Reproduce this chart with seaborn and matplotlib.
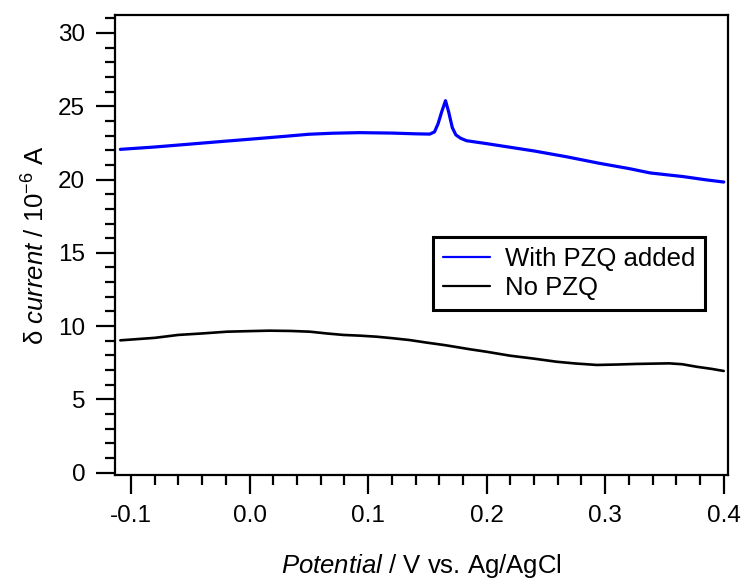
import matplotlib
matplotlib.use("Agg")
import matplotlib.pyplot as plt
import seaborn as sns
import pandas as pd
from matplotlib.ticker import MultipleLocator

# ---- data ----
x_pzq = [-0.109, -0.08, -0.05, -0.02, 0.0, 0.03, 0.05, 0.07, 0.093, 0.12, 0.14,
         0.152, 0.156, 0.159, 0.162, 0.1653, 0.168, 0.171, 0.174, 0.178, 0.183,
         0.2, 0.22, 0.24, 0.267, 0.295, 0.32, 0.338, 0.366, 0.385, 0.4]
y_pzq = [22.06, 22.22, 22.42, 22.62, 22.75, 22.95, 23.09, 23.16, 23.20, 23.17, 23.12,
         23.10, 23.25, 23.8, 24.6, 25.38, 24.6, 23.55, 23.05, 22.82, 22.65,
         22.45, 22.2, 21.95, 21.56, 21.11, 20.75, 20.45, 20.2, 19.98, 19.83]

x_none = [-0.109, -0.08, -0.06, -0.04, -0.019, 0.0, 0.017, 0.035, 0.051, 0.065, 0.079,
          0.093, 0.107, 0.12, 0.135, 0.149, 0.165, 0.186, 0.2, 0.22, 0.24, 0.259,
          0.275, 0.293, 0.31, 0.326, 0.34, 0.354, 0.365, 0.377, 0.39, 0.4]
y_none = [9.03, 9.2, 9.4, 9.5, 9.62, 9.66, 9.69, 9.67, 9.62, 9.5, 9.4,
          9.35, 9.28, 9.18, 9.05, 8.88, 8.7, 8.42, 8.25, 7.98, 7.78, 7.57,
          7.45, 7.35, 7.38, 7.42, 7.44, 7.46, 7.4, 7.23, 7.08, 6.94]

labels = ["With PZQ added", "No PZQ"]
colors = ["#0000ff", "#000000"]

df = pd.concat([
    pd.DataFrame({"x": x_pzq, "y": y_pzq, "series": labels[0]}),
    pd.DataFrame({"x": x_none, "y": y_none, "series": labels[1]}),
], ignore_index=True)

sns.set_theme(style="ticks")
plt.rcParams["font.family"] = ["Liberation Sans", "DejaVu Sans"]
plt.rcParams["mathtext.fontset"] = "custom"
plt.rcParams["mathtext.rm"] = "Liberation Sans"
plt.rcParams["mathtext.it"] = "Liberation Sans:italic"
for k in ["text.color", "axes.labelcolor", "xtick.color", "ytick.color", "axes.edgecolor"]:
    plt.rcParams[k] = "black"

fig = plt.figure(figsize=(7.43, 5.84), dpi=100)
ax = fig.add_axes([115 / 743, 1 - 475 / 584, (728 - 115) / 743, (475 - 14.5) / 584])

sns.lineplot(data=df, x="x", y="y", hue="series", palette=dict(zip(labels, colors)),
             estimator=None, sort=False, ax=ax, linewidth=2)
for line, lw in zip(ax.lines, [2.3, 1.9]):
    line.set_linewidth(lw)

ax.set_xlim(-0.1135, 0.4036)
ax.set_ylim(-0.157, 31.26)
ax.xaxis.set_major_locator(MultipleLocator(0.1))
ax.xaxis.set_minor_locator(MultipleLocator(0.02))
ax.yaxis.set_major_locator(MultipleLocator(5))
ax.yaxis.set_minor_locator(MultipleLocator(1))
ax.xaxis.set_major_formatter(matplotlib.ticker.FuncFormatter(lambda v, p: f"{v:.1f}"))

for s in ax.spines.values():
    s.set_linewidth(1.6)
    s.set_color("black")
    s.set_visible(True)

ax.tick_params(which="major", direction="out", length=13.5, width=1.6, labelsize=17.5,
               pad=8, color="black", labelcolor="black")
ax.tick_params(which="minor", direction="out", length=7, width=1.6, color="black")

ax.set_xlabel(r"$\mathit{Potential}$ / V vs. Ag/AgCl", fontsize=18.5, labelpad=18)
ax.set_ylabel(r"δ $\mathit{current}$ / 10$^{-6}$ A", fontsize=18.5, labelpad=6)

leg = ax.legend(handles=ax.lines[:2], labels=labels, loc="upper left",
                bbox_to_anchor=(0.519, 0.517), borderaxespad=0, fontsize=18.5,
                frameon=True, fancybox=False, framealpha=1, edgecolor="black",
                handlelength=1.85, handletextpad=0.55, labelspacing=0.2,
                borderpad=0.38)
leg.get_frame().set_linewidth(2.2)
for hl in leg.get_lines():
    hl.set_linewidth(1.6)

fig.savefig("out.png", dpi=100)
